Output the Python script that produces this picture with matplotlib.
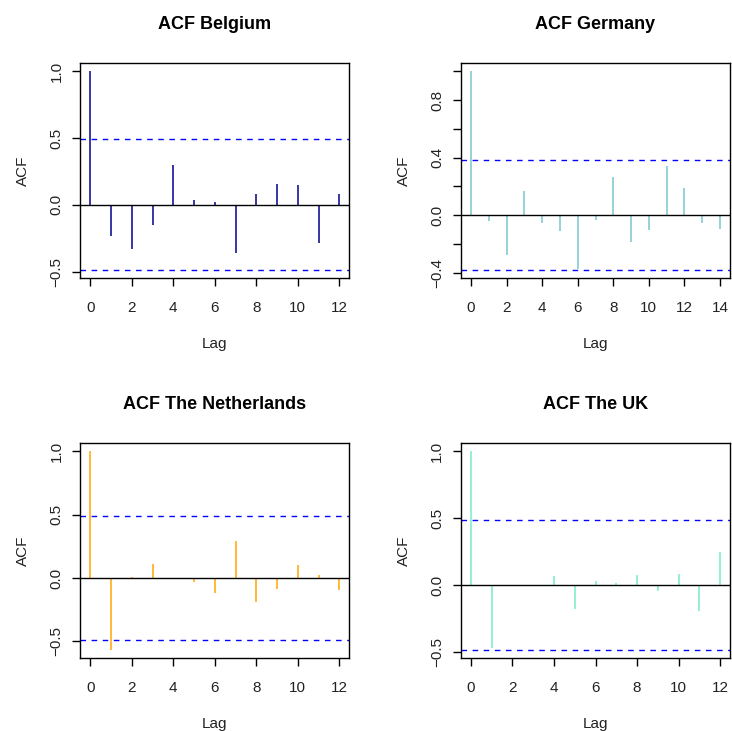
import matplotlib
matplotlib.use("Agg")
import matplotlib.pyplot as plt
import numpy as np

plt.rcParams['font.family'] = ['Liberation Sans', 'DejaVu Sans']

# Autocorrelation estimates per country (lag 0 .. max lag)
acf_belgium = [1.0, -0.233, -0.331, -0.153, 0.298, 0.035, 0.018, -0.361,
               0.085, 0.153, 0.145, -0.286, 0.078]
acf_germany = [1.0, -0.039, -0.274, 0.165, -0.053, -0.109, -0.374, -0.032,
               0.262, -0.190, -0.102, 0.343, 0.188, -0.053, -0.095]
acf_netherlands = [1.0, -0.571, 0.011, 0.113, 0.003, -0.034, -0.121, 0.295,
                   -0.192, -0.084, 0.105, 0.026, -0.092]
acf_uk = [1.0, -0.469, -0.010, 0.002, 0.065, -0.177, 0.032, 0.017,
          0.077, -0.042, 0.080, -0.197, 0.249]

# 95% confidence bounds
ci_belgium = 0.49
ci_germany = 0.384
ci_netherlands = 0.492
ci_uk = 0.488

titles = ["ACF Belgium", "ACF Germany", "ACF The Netherlands", "ACF The UK"]
colors = ["#00008B", "#7AC5CD", "#FFA500", "#76EEC6"]

panels = [
    (acf_belgium, ci_belgium, [-0.5, 0.0, 0.5, 1.0], ["\u22120.5", "0.0", "0.5", "1.0"]),
    (acf_germany, ci_germany, [-0.4, -0.2, 0.0, 0.2, 0.4, 0.6, 0.8, 1.0],
     ["\u22120.4", "", "0.0", "", "0.4", "", "0.8", ""]),
    (acf_netherlands, ci_netherlands, [-0.5, 0.0, 0.5, 1.0], ["\u22120.5", "0.0", "0.5", "1.0"]),
    (acf_uk, ci_uk, [-0.5, 0.0, 0.5, 1.0], ["\u22120.5", "0.0", "0.5", "1.0"]),
]

W, H = 732, 731
fig = plt.figure(figsize=(W / 100, H / 100), dpi=100)

boxes = [(80.3, 63.3), (461.0, 63.3), (80.3, 443.3), (461.0, 443.3)]
bw, bh = 269.0, 215.0

for (acf, ci, yt, ytl), title, col, (x0, y0) in zip(panels, titles, colors, boxes):
    ax = fig.add_axes([x0 / W, (H - y0 - bh) / H, bw / W, bh / H])
    acf = np.asarray(acf)
    lags = np.arange(len(acf))
    ax.vlines(lags, 0, acf, color=col, lw=1.1)
    ax.axhline(0, color="black", lw=1.0)
    for s in (ci, -ci):
        ax.axhline(s, color="blue", lw=1.0, ls=(0, (4, 4)))
    # 4% padding on both axes
    xmin, xmax = 0, lags[-1]
    dx = 0.04 * (xmax - xmin)
    ax.set_xlim(xmin - dx, xmax + dx)
    ymin = min(-ci, acf.min())
    ymax = max(ci, acf.max())
    dy = 0.04 * (ymax - ymin)
    ax.set_ylim(ymin - dy, ymax + dy)
    ax.set_xticks(np.arange(0, lags[-1] + 1, 2))
    ax.set_yticks(yt)
    ax.set_yticklabels(ytl, rotation=90, va="center")
    ax.tick_params(direction="out", length=6, width=1.0, labelsize=11,
                   color="black", labelcolor="#222222", pad=6)
    ax.tick_params(axis="x", pad=10)
    for sp in ax.spines.values():
        sp.set_color("black")
        sp.set_linewidth(1.0)
    ax.set_title(title, fontsize=13, fontweight="bold", pad=25)
    ax.set_xlabel("Lag", fontsize=11, labelpad=16, color="#222222")
    ax.set_ylabel("ACF", fontsize=11, labelpad=14, color="#222222")

fig.savefig("out.png", dpi=100)
